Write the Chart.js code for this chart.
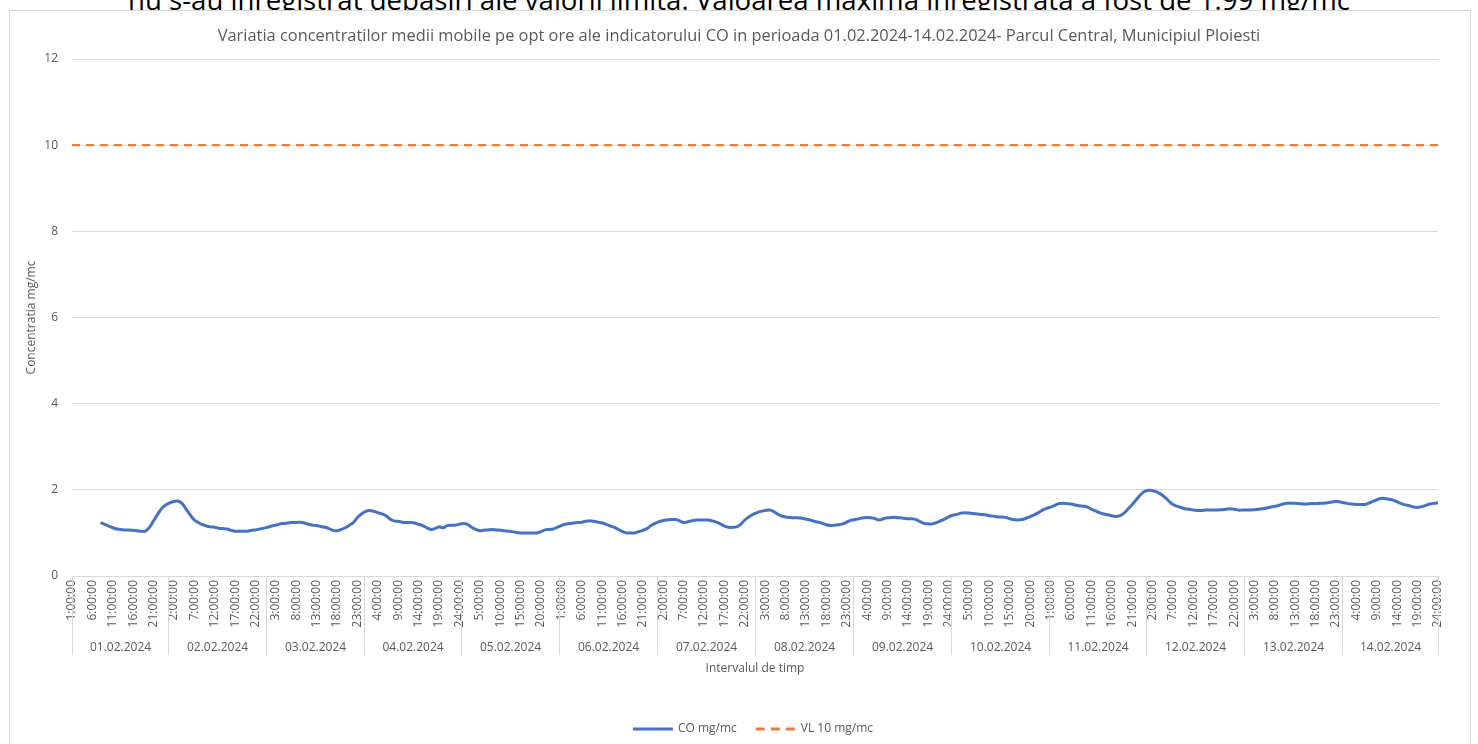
<!DOCTYPE html>
<html>
<head>
<meta charset="utf-8">
<script src="https://cdn.jsdelivr.net/npm/chart.js@4.4.1/dist/chart.umd.min.js"></script>
<style>
  html, body { margin: 0; padding: 0; background: #ffffff; overflow: hidden; }
  #page { position: relative; width: 1478px; height: 744px; overflow: hidden; }
  #doctext { position: absolute; left: 0; width: 1478px; top: -14px; text-align: center;
             font-family: "Open Sans", "Noto Sans", sans-serif; font-size: 27.6px; line-height: 27px; color: #000; white-space: nowrap; }
  #panel { position: absolute; left: 9px; top: 10px; width: 1460px; height: 800px; border: 1px solid #d9d9d9; background: #fff; }
  #wrap { position: absolute; left: 0; top: 0; width: 1478px; height: 744px; }
</style>
</head>
<body>
<div id="page">
  <div id="doctext">nu s-au înregistrat depășiri ale valorii limită. Valoarea maximă înregistrată a fost de 1.99 mg/mc</div>
  <div id="panel"></div>
  <div id="wrap"><canvas id="c" width="1478" height="744"></canvas></div>
</div>
<script>
// ---- data ----
const chartTitle = "Variatia concentratilor medii mobile pe opt ore ale indicatorului CO in perioada 01.02.2024-14.02.2024- Parcul Central, Municipiul Ploiesti";
const dates = ["01.02.2024","02.02.2024","03.02.2024","04.02.2024","05.02.2024","06.02.2024","07.02.2024",
               "08.02.2024","09.02.2024","10.02.2024","11.02.2024","12.02.2024","13.02.2024","14.02.2024"];
const hours = ["1:00:00","2:00:00","3:00:00","4:00:00","5:00:00","6:00:00","7:00:00","8:00:00",
               "9:00:00","10:00:00","11:00:00","12:00:00","13:00:00","14:00:00","15:00:00","16:00:00",
               "17:00:00","18:00:00","19:00:00","20:00:00","21:00:00","22:00:00","23:00:00","24:00:00"];

// CO 8-hour moving average, mg/mc (24 hourly values per day)
const co01 = [null,null,null,null,null,null,null,1.24,1.20,1.16,1.12,1.09,1.08,1.07,1.07,1.06,1.05,1.04,1.04,1.13,1.28,1.43,1.57,1.65];
const co02 = [1.70,1.73,1.74,1.68,1.55,1.42,1.30,1.24,1.19,1.16,1.14,1.13,1.11,1.10,1.09,1.06,1.04,1.04,1.04,1.04,1.06,1.07,1.09,1.11];
const co03 = [1.13,1.16,1.18,1.21,1.22,1.23,1.24,1.24,1.25,1.23,1.20,1.18,1.17,1.15,1.13,1.10,1.06,1.05,1.08,1.12,1.18,1.24,1.36,1.44];
const co04 = [1.50,1.52,1.50,1.47,1.44,1.40,1.32,1.28,1.27,1.25,1.24,1.24,1.23,1.20,1.17,1.12,1.08,1.10,1.14,1.12,1.17,1.18,1.18,1.20];
const co05 = [1.22,1.20,1.13,1.08,1.05,1.06,1.07,1.08,1.07,1.06,1.05,1.04,1.03,1.01,1.00,1.00,1.00,1.00,1.00,1.03,1.07,1.08,1.09,1.13];
const co06 = [1.17,1.20,1.22,1.23,1.24,1.25,1.27,1.28,1.27,1.25,1.23,1.20,1.16,1.13,1.08,1.03,1.00,1.00,1.00,1.03,1.06,1.10,1.17,1.22];
const co07 = [1.26,1.29,1.30,1.31,1.31,1.28,1.24,1.26,1.28,1.30,1.30,1.30,1.30,1.28,1.25,1.21,1.16,1.13,1.13,1.14,1.20,1.30,1.37,1.43];
const co08 = [1.47,1.50,1.52,1.53,1.50,1.44,1.39,1.37,1.36,1.35,1.35,1.34,1.32,1.30,1.27,1.25,1.22,1.19,1.17,1.18,1.19,1.21,1.25,1.29];
const co09 = [1.31,1.33,1.35,1.36,1.35,1.33,1.30,1.33,1.35,1.36,1.36,1.35,1.34,1.33,1.33,1.31,1.26,1.22,1.21,1.21,1.24,1.28,1.32,1.37];
const co10 = [1.41,1.43,1.46,1.47,1.46,1.45,1.44,1.43,1.42,1.40,1.39,1.37,1.37,1.36,1.33,1.31,1.30,1.31,1.34,1.38,1.42,1.47,1.53,1.57];
const co11 = [1.60,1.64,1.68,1.69,1.68,1.67,1.65,1.63,1.62,1.60,1.55,1.51,1.47,1.44,1.42,1.40,1.38,1.40,1.46,1.56,1.66,1.77,1.88,1.96];
const co12 = [1.99,1.98,1.95,1.90,1.83,1.74,1.66,1.62,1.59,1.56,1.55,1.53,1.52,1.52,1.53,1.53,1.53,1.53,1.54,1.55,1.56,1.55,1.53,1.53];
const co13 = [1.53,1.53,1.54,1.55,1.56,1.58,1.60,1.62,1.64,1.67,1.69,1.69,1.69,1.68,1.67,1.67,1.68,1.68,1.69,1.69,1.70,1.72,1.73,1.72];
const co14 = [1.70,1.68,1.67,1.66,1.66,1.66,1.69,1.73,1.77,1.80,1.80,1.78,1.76,1.72,1.68,1.65,1.63,1.60,1.59,1.61,1.64,1.67,1.69,1.70];
const limitValue = 10; // VL 10 mg/mc

const yTicks = [0, 2, 4, 6, 8, 10, 12];
const seriesNames = ["CO mg/mc", "VL 10 mg/mc"];
const xAxisTitle = "Intervalul de timp";
const yAxisTitle = "Concentratia mg/mc";

// ---- build ----
const coValues = [].concat(co01,co02,co03,co04,co05,co06,co07,co08,co09,co10,co11,co12,co13,co14);
const labels = [];
dates.forEach(d => hours.forEach(h => labels.push(h)));
const limitValues = labels.map(() => limitValue);

const GRAY = '#595959';
const FONT = '"Open Sans", "Noto Sans", sans-serif';

const groupPlugin = {
  id: 'groupAxis',
  afterDraw(chart) {
    const {ctx, chartArea, scales: {x}} = chart;
    const n = labels.length;
    const per = hours.length;
    const top = chartArea.bottom;
    const sepBottom = top + 79;
    ctx.save();

    // chart title, centred on the whole chart panel
    ctx.fillStyle = GRAY;
    ctx.font = '16.4px ' + FONT;
    ctx.textAlign = 'center';
    ctx.textBaseline = 'middle';
    ctx.fillText(chartTitle, chart.width / 2, 36);

    ctx.strokeStyle = '#d9d9d9';
    ctx.lineWidth = 1;
    const bounds = [];
    for (let d = 0; d <= dates.length; d++) {
      let v = d * per - 0.5;
      if (v < 0) v = 0;
      if (v > n - 1) v = n - 1;
      const px = Math.round(x.getPixelForValue(v)) + 0.5;
      bounds.push(px);
      ctx.beginPath();
      ctx.moveTo(px, top);
      ctx.lineTo(px, sepBottom);
      ctx.stroke();
    }
    ctx.fillStyle = GRAY;
    ctx.font = '12px ' + FONT;
    for (let d = 0; d < dates.length; d++) {
      ctx.fillText(dates[d], (bounds[d] + bounds[d + 1]) / 2, top + 72);
    }
    ctx.fillText(xAxisTitle, (chartArea.left + chartArea.right) / 2, top + 93);

    // legend
    const sw = 40, gapT = 5, gapItem = 19, ly = 729;
    const ds = chart.data.datasets;
    const widths = ds.map(d => ctx.measureText(d.label).width);
    let total = 0;
    ds.forEach((d, i) => { total += sw + gapT + widths[i] + (i < ds.length - 1 ? gapItem : 0); });
    let cx = (chartArea.left + chartArea.right) / 2 - total / 2 - 2;
    ctx.textAlign = 'left';
    ds.forEach((d, i) => {
      ctx.save();
      ctx.strokeStyle = d.borderColor;
      ctx.lineWidth = 3;
      ctx.setLineDash(d.borderDash ? [9, 6] : []);
      ctx.beginPath();
      ctx.moveTo(cx, ly);
      ctx.lineTo(cx + sw, ly);
      ctx.stroke();
      ctx.restore();
      ctx.fillStyle = GRAY;
      ctx.fillText(d.label, cx + sw + gapT, ly);
      cx += sw + gapT + widths[i] + gapItem;
    });
    ctx.restore();
  }
};

new Chart(document.getElementById('c'), {
  type: 'line',
  data: {
    labels: labels,
    datasets: [
      {
        label: seriesNames[0],
        data: coValues,
        borderColor: '#4472C4',
        backgroundColor: '#4472C4',
        borderWidth: 3,
        pointRadius: 0,
        tension: 0.4,
        spanGaps: false
      },
      {
        label: seriesNames[1],
        data: limitValues,
        borderColor: '#ED7D31',
        backgroundColor: '#ED7D31',
        borderWidth: 2.25,
        borderDash: [8, 6],
        pointRadius: 0,
        tension: 0
      }
    ]
  },
  options: {
    responsive: false,
    animation: false,
    devicePixelRatio: 1,
    layout: { padding: { left: 0, right: 40, top: 59, bottom: 0 } },
    plugins: {
      title: { display: false },
      legend: { display: false },
      tooltip: { enabled: false }
    },
    scales: {
      x: {
        type: 'category',
        offset: false,
        grid: { display: false, drawTicks: false },
        border: { display: true, color: '#d9d9d9' },
        ticks: {
          autoSkip: false,
          maxRotation: 90,
          minRotation: 90,
          padding: 4,
          color: GRAY,
          font: { family: FONT, size: 12 },
          callback: function (val, i) { return i % 5 === 0 ? labels[i] : ''; }
        },
        afterFit(scale) { scale.height = 744 - 576; }
      },
      y: {
        min: 0,
        max: 12,
        afterBuildTicks(scale) { scale.ticks = yTicks.map(v => ({ value: v })); },
        grid: { color: '#d9d9d9', drawTicks: false },
        border: { display: false },
        ticks: {
          padding: 14,
          color: GRAY,
          font: { family: FONT, size: 12 }
        },
        title: {
          display: true,
          text: yAxisTitle,
          color: GRAY,
          font: { family: FONT, size: 12 },
          padding: { top: 24.8, bottom: 0 }
        },
        afterFit(scale) { scale.width = 72; }
      }
    }
  },
  plugins: [groupPlugin]
});
</script>
</body>
</html>
